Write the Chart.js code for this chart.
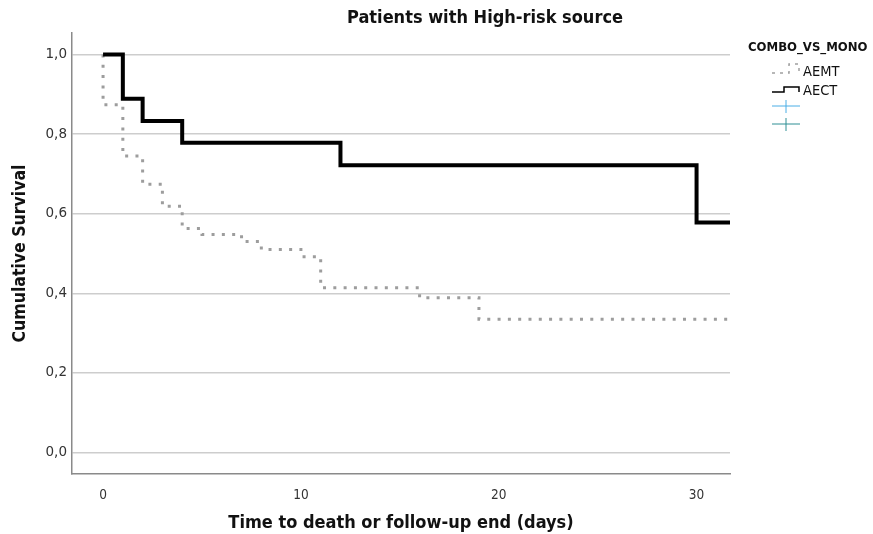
<!DOCTYPE html>
<html>
<head>
<meta charset="utf-8">
<script src="https://cdn.jsdelivr.net/npm/chart.js@4"></script>
<style>
  html, body { margin: 0; padding: 0; background: #fff; }
  #wrap { width: 873px; height: 534px; }
</style>
</head>
<body>
<div id="wrap"><canvas id="kmChart"></canvas></div>
<script>
// Kaplan-Meier steps (time in days, cumulative survival)
const groups = ['AEMT', 'AECT'];
const aemtTimes = [0, 0, 1, 2, 3, 4, 5, 7, 8, 10, 11, 16, 19, 32];
const aemtSurv = [1, 0.874, 0.745, 0.674, 0.619, 0.563, 0.548, 0.530, 0.510, 0.492, 0.414, 0.389, 0.335, 0.335];
const aectTimes = [0, 1, 2, 4, 12, 30, 32];
const aectSurv = [1, 0.889, 0.833, 0.778, 0.722, 0.578, 0.578];
const xTicks = [0, 10, 20, 30];
const yTicks = [0, 0.2, 0.4, 0.6, 0.8, 1.0];

const condBold = '"DejaVu Sans Condensed", "DejaVu Sans", sans-serif';
Chart.defaults.font.family = '"DejaVu Sans Condensed", "DejaVu Sans", sans-serif';

const toPoints = (t, s) => t.map((x, i) => ({ x: x, y: s[i] }));

// title and the SPSS-style legend on the right
const overlay = {
  id: 'overlay',
  afterDraw(chart) {
    const ctx = chart.ctx;
    ctx.save();
    ctx.fillStyle = '#111';
    ctx.textBaseline = 'middle';
    ctx.textAlign = 'center';
    ctx.font = 'bold 18px ' + condBold;
    ctx.fillText('Patients with High-risk source', 485, 18);

    ctx.textAlign = 'left';
    ctx.font = 'bold 13px ' + condBold;
    ctx.fillText('COMBO_VS_MONO', 748, 48);
    ctx.font = '14.5px ' + condBold;
    ctx.fillText(groups[0], 803, 72);
    ctx.fillText(groups[1], 803, 91);

    // AEMT glyph
    ctx.strokeStyle = '#a0a0a0';
    ctx.lineWidth = 1.5;
    ctx.setLineDash([3, 5]);
    ctx.beginPath();
    ctx.moveTo(772, 73); ctx.lineTo(789, 73); ctx.lineTo(789, 64); ctx.lineTo(799, 64); ctx.lineTo(799, 73);
    ctx.stroke();
    ctx.setLineDash([]);
    // AECT glyph
    ctx.strokeStyle = '#000';
    ctx.beginPath();
    ctx.moveTo(772, 92); ctx.lineTo(784, 92); ctx.lineTo(784, 87); ctx.lineTo(799, 87); ctx.lineTo(799, 92);
    ctx.stroke();
    // censor crosses
    ctx.lineWidth = 1;
    ctx.strokeStyle = '#4aaee6';
    ctx.beginPath();
    ctx.moveTo(772, 106); ctx.lineTo(800, 106); ctx.moveTo(786, 100); ctx.lineTo(786, 113);
    ctx.stroke();
    ctx.strokeStyle = '#2f8f94';
    ctx.beginPath();
    ctx.moveTo(772, 124); ctx.lineTo(800, 124); ctx.moveTo(786, 118); ctx.lineTo(786, 131);
    ctx.stroke();
    ctx.restore();
  }
};

new Chart(document.getElementById('kmChart'), {
  type: 'line',
  data: {
    datasets: [{
      label: groups[0],
      data: toPoints(aemtTimes, aemtSurv),
      borderColor: '#9d9d9d',
      borderWidth: 3,
      borderDash: [3, 7.3],
      borderCapStyle: 'butt',
      stepped: 'before',
      pointRadius: 0,
      fill: false,
      order: 1
    }, {
      label: groups[1],
      data: toPoints(aectTimes, aectSurv),
      borderColor: '#000',
      borderWidth: 4,
      borderJoinStyle: 'miter',
      stepped: 'before',
      pointRadius: 0,
      fill: false,
      order: 0
    }]
  },
  options: {
    responsive: true,
    maintainAspectRatio: false,
    animation: false,
    layout: { padding: { top: 33, right: 143, left: 0, bottom: 0 } },
    plugins: {
      legend: { display: false },
      title: { display: false },
      tooltip: { enabled: false }
    },
    scales: {
      x: {
        type: 'linear',
        min: -1.57,
        max: 31.69,
        afterBuildTicks: s => { s.ticks = xTicks.map(v => ({ value: v })); },
        afterFit: s => { s.height = 60; },
        grid: { display: false },
        border: { display: true, color: '#8a8a8a', width: 1.5 },
        ticks: { padding: 5, color: '#333', font: { size: 13.5 }, maxRotation: 0 },
        title: {
          display: true,
          text: 'Time to death or follow-up end (days)',
          color: '#111',
          font: { family: condBold, size: 18, weight: 'bold' },
          padding: { top: 0, bottom: 0 }
        }
      },
      y: {
        min: -0.054,
        max: 1.054,
        afterBuildTicks: s => { s.ticks = yTicks.map(v => ({ value: v })); },
        afterFit: s => { s.width = 72; },
        grid: { color: '#cdcdcd', lineWidth: 1.5, drawTicks: false },
        border: { display: true, color: '#8a8a8a', width: 1.5 },
        ticks: {
          padding: 5,
          color: '#333',
          font: { family: '"DejaVu Sans", sans-serif', size: 13.5 },
          callback: v => v.toFixed(1).replace('.', ',')
        },
        title: {
          display: true,
          text: 'Cumulative Survival',
          color: '#111',
          font: { family: condBold, size: 17.5, weight: 'bold' },
          padding: { top: 10, bottom: 0 }
        }
      }
    }
  },
  plugins: [overlay]
});
</script>
</body>
</html>
